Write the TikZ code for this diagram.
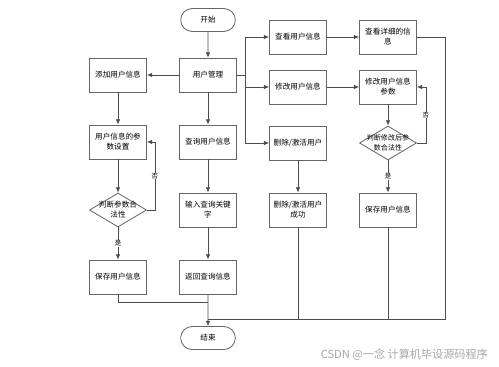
\documentclass[tikz,border=0pt]{standalone}
\usepackage{fontspec}
\newfontfamily\cjk{Noto Sans CJK SC}
\usetikzlibrary{arrows.meta}
\usetikzlibrary{shapes.geometric}
\usetikzlibrary{shapes.misc}

\tikzset{
    base/.style={draw=black!60, line width=0.7pt, fill=white, font=\cjk\fontsize{6.5}{8.5}\selectfont, align=center, inner sep=1pt},
    proc/.style={base, minimum width=57*0.3mm, minimum height=34*0.3mm},
    term/.style={base, rounded rectangle, minimum width=57*0.3mm, minimum height=23*0.3mm},
    cond/.style={base, diamond, minimum width=57*0.3mm, minimum height=34*0.3mm},
    flow/.style={draw=black!70, line width=0.6pt},
    go/.style={flow, -{Latex[length=4.5pt,width=3.8pt]}},
    tag/.style={font=\cjk\fontsize{5.5}{6}\selectfont, fill=white, inner sep=0.5pt}
}

\begin{document}
\begin{tikzpicture}[x=0.3mm, y=-0.3mm]
        \useasboundingbox (0,0) rectangle (499,366);

        % nodes
        \node[term] (start) at (208,20) {开始};
        \node[proc] (guanli) at (208,75) {用户管理};
        \node[proc] (tianjia) at (118,75) {添加用户信息};
        \node[proc] (shezhi) at (118,142) {用户信息的参\\数设置};
        \node[cond, label={[tag, fill=none, font=\cjk\fontsize{6.5}{8.5}\selectfont, align=center]center:判断参数合\\法性}] (hefa) at (118,210) {};
        \node[proc] (baocunA) at (118,277) {保存用户信息};

        \node[proc] (chaxun) at (208,142) {查询用户信息};
        \node[proc] (shuru) at (208,210) {输入查询关键\\字};
        \node[proc] (fanhui) at (208,277) {返回查询信息};
        \node[term] (stop) at (208,338) {结束};

        \node[proc] (chakan) at (298,37) {查看用户信息};
        \node[proc] (xiugai) at (298,87) {修改用户信息};
        \node[proc] (shanchu) at (298,143) {删除/激活用户};
        \node[proc] (chenggong) at (298,210) {删除/激活用户\\成功};

        \node[proc] (xiangxi) at (388,37) {查看详细的信\\息};
        \node[proc] (canshu) at (388,87) {修改用户信息\\参数};
        \node[cond, label={[tag, fill=none, font=\cjk\fontsize{6}{8}\selectfont, align=center]center:判断修改后参\\数合法性}] (hefaB) at (388,143) {};
        \node[proc] (baocunB) at (388,210) {保存用户信息};

        \node[font=\cjk\fontsize{9.5}{11}\selectfont, text=black!35, anchor=east] (mark) at (492,355) {CSDN @一念 计算机毕设源码程序};

        % junctions
        \coordinate (brTop) at (245,37);
        \coordinate (brMid) at (245,87);
        \coordinate (brBot) at (245,143);
        \coordinate (joinA) at (208,302);
        \coordinate (joinB) at (208,319);

        % connectors
        \draw[go] (start) -- (guanli);
        \draw[go] (guanli) -- (tianjia);
        \draw[go] (guanli) -- (chaxun);
        \draw[flow] (guanli.east) -- (guanli.east -| brTop);
        \draw[flow] (brTop) -- (brBot);
        \draw[go] (brTop) -- (chakan);
        \draw[go] (brMid) -- (xiugai);
        \draw[go] (brBot) -- (shanchu);

        \draw[go] (chakan) -- (xiangxi);
        \draw[go] (xiugai) -- (canshu);
        \draw[go] (shanchu) -- (chenggong);
        \draw[go] (canshu) -- (hefaB);
        \draw[go] (hefaB) -- node[tag] {是} (baocunB);
        \draw[go] (hefaB.east) -- ++(9,0) |- node[tag, pos=0.25] {否} (canshu.east);

        \draw[go] (tianjia) -- (shezhi);
        \draw[go] (shezhi) -- (hefa);
        \draw[go] (hefa) -- node[tag] {是} (baocunA);
        \draw[go] (hefa.east) -- ++(8,0) |- node[tag, pos=0.25] {否} (shezhi.east);

        \draw[go] (chaxun) -- (shuru);
        \draw[go] (shuru) -- (fanhui);
        \draw[go] (fanhui) -- (stop);

        \draw[flow] (baocunA.south) |- (joinA);
        \draw[flow] (xiangxi.east) -- ++(28,0) |- (joinB);
        \draw[flow] (chenggong.south) -- (chenggong.south |- joinB);
        \draw[flow] (baocunB.south) -- (baocunB.south |- joinB);
    \end{tikzpicture}
\end{document}
